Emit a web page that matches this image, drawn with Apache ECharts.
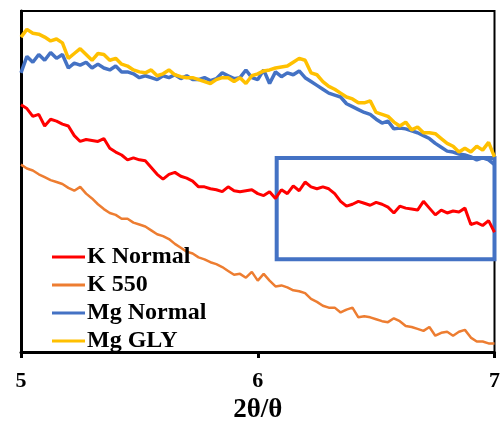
<!DOCTYPE html>
<html>
<head>
<meta charset="utf-8">
<script src="https://cdn.jsdelivr.net/npm/echarts@6/dist/echarts.min.js"></script>
<style>html,body{margin:0;padding:0;background:#fff;}#chart{width:503px;height:429px;}</style>
</head>
<body>
<div id="chart"></div>
<script>
// 2θ sampling grid (5.000 .. 7.000, step 0.025)
const twoTheta = Array.from({length: 81}, (_, i) => +(5 + i * 0.025).toFixed(3));
const seriesNames = ['K Normal', 'K 550', 'Mg Normal', 'Mg GLY'];
const kNormal = [256,252,244,246,234,241,239,236,234,224,218,220,219,218,221,211,207,204,199,201,199,198,191,184,179,184,186,182,180,177,171,171,169,168,166,171,167,166,167,168,164,162,166,159,168,164,172,167,176,171,169,171,169,164,156,151,153,156,154,152,155,153,150,144,151,149,148,147,156,149,142,147,144,146,145,149,132,134,131,136,124];
const k550 = [194,190,188,184,181,178,176,174,170,167,171,164,159,153,148,144,142,138,138,134,132,130,126,122,120,117,112,108,104,102,98,96,93,91,88,84,80,81,77,83,74,81,74,68,69,67,64,63,61,55,52,48,46,46,41,44,46,36,37,36,34,32,31,35,32,27,26,24,22,26,17,20,21,17,21,23,15,11,11,9,9];
const mgNormal = [289,306,300,308,302,310,304,308,294,299,297,300,294,298,294,292,296,290,290,288,284,286,284,282,286,284,287,283,286,282,282,284,281,283,289,286,283,284,292,284,282,292,278,290,285,289,287,291,284,280,276,272,268,266,264,257,254,251,248,246,241,237,239,231,232,231,229,227,224,221,216,212,208,207,205,204,202,199,201,199,194];
const mgGly = [326,334,330,329,326,322,324,320,304,309,314,308,302,309,308,302,304,298,296,292,290,289,292,286,288,292,287,285,284,284,282,280,278,282,284,284,280,284,278,286,288,291,292,294,295,296,300,304,302,289,287,280,275,272,268,264,262,258,258,260,248,246,244,238,234,238,230,233,227,227,226,221,216,213,207,211,207,213,209,217,202];
// highlighted region (2θ range, intensity range)
const boxX = [6.08, 7.0];
const boxY = [96, 201];

const colors = ['#FF0000', '#ED7D31', '#4472C4', '#FFC000'];
const widths = [3, 2.5, 3.5, 3.5];
const allData = [kNormal, k550, mgNormal, mgGly];
const serif = '"Liberation Serif", "Times New Roman", serif';

const series = allData.map((vals, k) => ({
  name: seriesNames[k],
  type: 'line',
  data: vals.map((v, i) => [twoTheta[i], v]),
  showSymbol: false,
  smooth: false,
  lineStyle: {color: colors[k], width: widths[k]},
  itemStyle: {color: colors[k]},
  clip: true
}));
series[3].markArea = {
  silent: true,
  itemStyle: {color: 'rgba(0,0,0,0)', borderColor: '#4472C4', borderWidth: 4},
  data: [[{coord: [boxX[0], boxY[1]]}, {coord: [boxX[1], boxY[0]]}]]
};

const chart = echarts.init(document.getElementById('chart'), null, {renderer: 'canvas'});
chart.setOption({
  animation: false,
  backgroundColor: '#ffffff',
  grid: {left: 21, right: 3, top: 11, bottom: 65, show: true, borderColor: '#000', borderWidth: 2},
  legend: {
    orient: 'vertical', left: 47, top: 240,
    icon: 'rect', itemWidth: 33, itemHeight: 3, itemGap: 4,
    data: seriesNames,
    textStyle: {fontFamily: serif, fontWeight: 'bold', fontSize: 24, color: '#000', padding: [0, 0, 0, -3]}
  },
  xAxis: {
    type: 'value', min: 5, max: 7, interval: 1,
    axisLine: {show: true, lineStyle: {color: '#000', width: 3}},
    axisTick: {show: true, length: 6, lineStyle: {color: '#000', width: 3}},
    splitLine: {show: false},
    axisLabel: {fontFamily: serif, fontWeight: 'bold', fontSize: 22, color: '#000', margin: 18},
    name: '2θ/θ', nameLocation: 'middle', nameGap: 39,
    nameTextStyle: {fontFamily: serif, fontWeight: 'bold', fontSize: 27, color: '#000'}
  },
  yAxis: {
    type: 'value', min: 0, max: 353,
    axisLine: {show: true, lineStyle: {color: '#000', width: 3}},
    axisTick: {show: false}, axisLabel: {show: false}, splitLine: {show: false}
  },
  series: series
});
</script>
</body>
</html>
